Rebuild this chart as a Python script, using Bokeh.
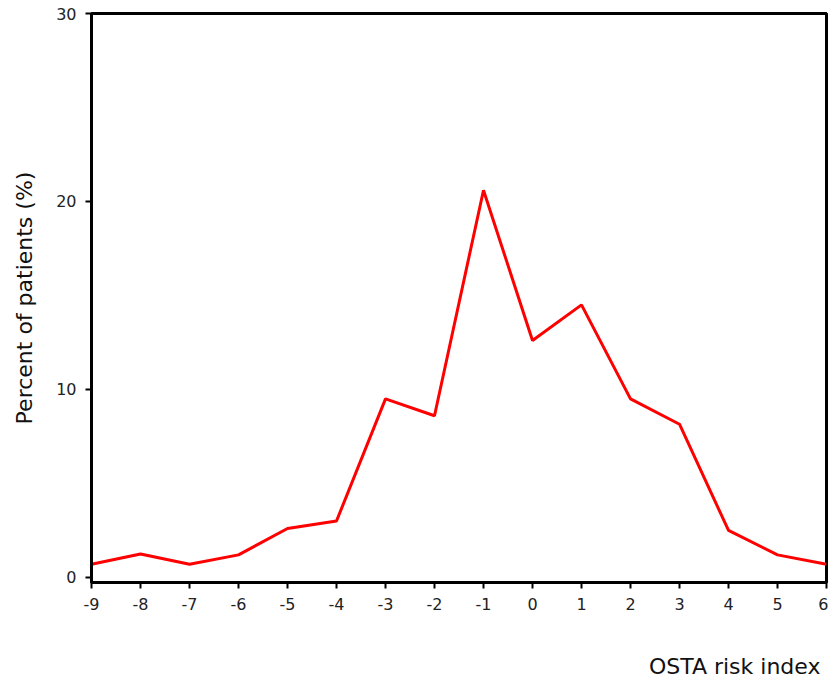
from bokeh.plotting import figure
from bokeh.models import Range1d, FixedTicker, Title
from bokeh.embed import file_html
from bokeh.resources import INLINE

risk_index = [-9, -8, -7, -6, -5, -4, -3, -2, -1, 0, 1, 2, 3, 4, 5, 6]
percent = [0.7, 1.25, 0.7, 1.2, 2.6, 3.0, 9.5, 8.6, 20.6, 12.6, 14.5, 9.5, 8.15, 2.5, 1.2, 0.7]
x_tick_labels = ["-9", "-8", "-7", "-6", "-5", "-4", "-3", "-2", "-1", "0", "1", "2", "3", "4", "5", "6"]
y_ticks = [0, 10, 20, 30]

FONT = "DejaVu Sans"

p = figure(width=828, height=678, output_backend="svg", toolbar_location=None,
           x_range=Range1d(-9, 6), y_range=Range1d(-0.27, 30),
           min_border_left=91, min_border_right=2, min_border_top=13, min_border_bottom=4)

p.line(risk_index, percent, line_color="red", line_width=3)

p.xgrid.visible = False
p.ygrid.visible = False
p.outline_line_color = "black"
p.outline_line_width = 3
p.outline_line_alpha = 1

p.xaxis.ticker = FixedTicker(ticks=risk_index)
p.xaxis.major_label_overrides = {t: s for t, s in zip(risk_index, x_tick_labels)}
p.yaxis.ticker = FixedTicker(ticks=y_ticks)
for ax in (p.xaxis, p.yaxis):
    ax.axis_line_width = 3
    ax.axis_line_color = "black"
    ax.major_tick_line_width = 2
    ax.major_tick_line_color = "black"
    ax.major_tick_out = 6
    ax.major_tick_in = 0
    ax.minor_tick_line_color = None
    ax.major_label_text_font = FONT
    ax.major_label_text_font_size = "16px"
    ax.major_label_text_color = "#222222"

p.xaxis.major_label_standoff = 9
p.yaxis.major_label_standoff = 9

# blank spacer label to push the right-aligned title further below the axis
p.xaxis.axis_label = " "
p.xaxis.axis_label_text_font_size = "2px"
p.xaxis.axis_label_standoff = 34

p.yaxis.axis_label = "Percent of patients (%)"
p.yaxis.axis_label_text_font = FONT
p.yaxis.axis_label_text_font_size = "22px"
p.yaxis.axis_label_text_font_style = "normal"
p.yaxis.axis_label_text_color = "#111111"
p.yaxis.axis_label_standoff = 16

p.add_layout(Title(text="OSTA risk index", align="right",
                   text_font=FONT, text_font_size="22px", text_font_style="normal",
                   text_color="#111111", standoff=0, offset=6), "below")

open("out.html", "w").write(file_html(p, INLINE))
